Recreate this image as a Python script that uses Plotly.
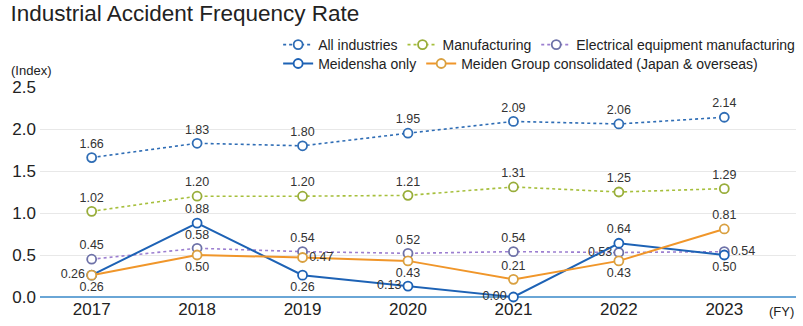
import plotly.graph_objects as go

years = [2017, 2018, 2019, 2020, 2021, 2022, 2023]
all_industries = [1.66, 1.83, 1.80, 1.95, 2.09, 2.06, 2.14]
manufacturing = [1.02, 1.20, 1.20, 1.21, 1.31, 1.25, 1.29]
electrical = [0.45, 0.58, 0.54, 0.52, 0.54, 0.53, 0.54]
meidensha = [0.26, 0.88, 0.26, 0.13, 0.00, 0.64, 0.50]
meiden_group = [0.26, 0.50, 0.47, 0.43, 0.21, 0.43, 0.81]

FONT = "Liberation Sans, Arial, sans-serif"
TXT = dict(family=FONT, size=12.5, color="#333333")

series = [
    dict(name="All industries", y=all_industries, color="#2f6db5", mcolor="#2f6db5",
         dash="dot", width=1.6, legend="legend",
         pos=["top center"] * 7),
    dict(name="Manufacturing", y=manufacturing, color="#a6bf3c", mcolor="#98ad3a",
         dash="dot", width=1.6, legend="legend",
         pos=["top center"] * 7),
    dict(name="Electrical equipment manufacturing", y=electrical, color="#9c7fd0",
         mcolor="#6e72a8", dash="dot", width=1.6, legend="legend",
         pos=["top center"] * 5 + ["middle left", "middle right"]),
    dict(name="Meidensha only", y=meidensha, color="#1d62b5", mcolor="#1d62b5",
         dash="solid", width=2, legend="legend2",
         pos=["middle left", "top center", "bottom center", "middle left",
              "middle left", "top center", "bottom center"]),
    dict(name="Meiden Group consolidated (Japan & overseas)", y=meiden_group,
         color="#f0962a", mcolor="#d9a040", dash="solid", width=2, legend="legend2",
         pos=["bottom center", "bottom center", "middle right", "bottom center",
              "top center", "bottom center", "top center"]),
]

fig = go.Figure()
for s in series:
    fig.add_trace(go.Scatter(
        x=years, y=s["y"], name=s["name"], legend=s["legend"],
        mode="lines+markers+text",
        text=[f"{v:.2f}" for v in s["y"]],
        textposition=s["pos"], textfont=TXT,
        line=dict(color=s["color"], width=s["width"], dash=s["dash"]),
        marker=dict(symbol="circle", size=9, color="white",
                    line=dict(color=s["mcolor"], width=1.8)),
        cliponaxis=False,
    ))

LEG = dict(orientation="h", xanchor="left", yanchor="middle",
           bgcolor="rgba(0,0,0,0)", itemwidth=30,
           font=dict(family=FONT, size=14, color="#222222"),
           traceorder="normal")

fig.update_layout(
    width=803, height=326,
    margin=dict(l=40, r=3, t=87, b=29),
    paper_bgcolor="white", plot_bgcolor="white",
    font=dict(family=FONT, color="#222222"),
    showlegend=True,
    title=dict(text="Industrial Accident Frequency Rate", x=0.013, xanchor="left",
               y=0.96, yanchor="middle",
               font=dict(family=FONT, size=22.5, color="#222222")),
    legend=dict(LEG, x=0.315, y=1.2),
    legend2=dict(LEG, x=0.315, y=1.11),
    xaxis=dict(range=[2016.51, 2023.68], tickvals=years,
               ticktext=[str(y) for y in years],
               tickfont=dict(family=FONT, size=17, color="#222222"),
               showgrid=False, zeroline=False, showline=False, ticks=""),
    yaxis=dict(range=[0, 2.5], tickvals=[0, 0.5, 1.0, 1.5, 2.0, 2.5],
               ticktext=["0.0", "0.5", "1.0", "1.5", "2.0", "2.5"],
               tickfont=dict(family=FONT, size=17, color="#222222"),
               showgrid=True, gridcolor="#e8e8e8", gridwidth=1,
               zeroline=True, zerolinecolor="#6aa6d6", zerolinewidth=1.5,
               ticks="", ticklabelstandoff=3),
    annotations=[
        dict(text="(Index)", xref="paper", yref="paper", x=-0.041, y=1.08,
             xanchor="left", yanchor="middle", showarrow=False,
             font=dict(family=FONT, size=13, color="#222222")),
        dict(text="(FY)", xref="paper", yref="paper", x=1.0, y=-0.067,
             xanchor="right", yanchor="middle", showarrow=False,
             font=dict(family=FONT, size=13, color="#222222")),
    ],
)

fig.write_html("out.html")
